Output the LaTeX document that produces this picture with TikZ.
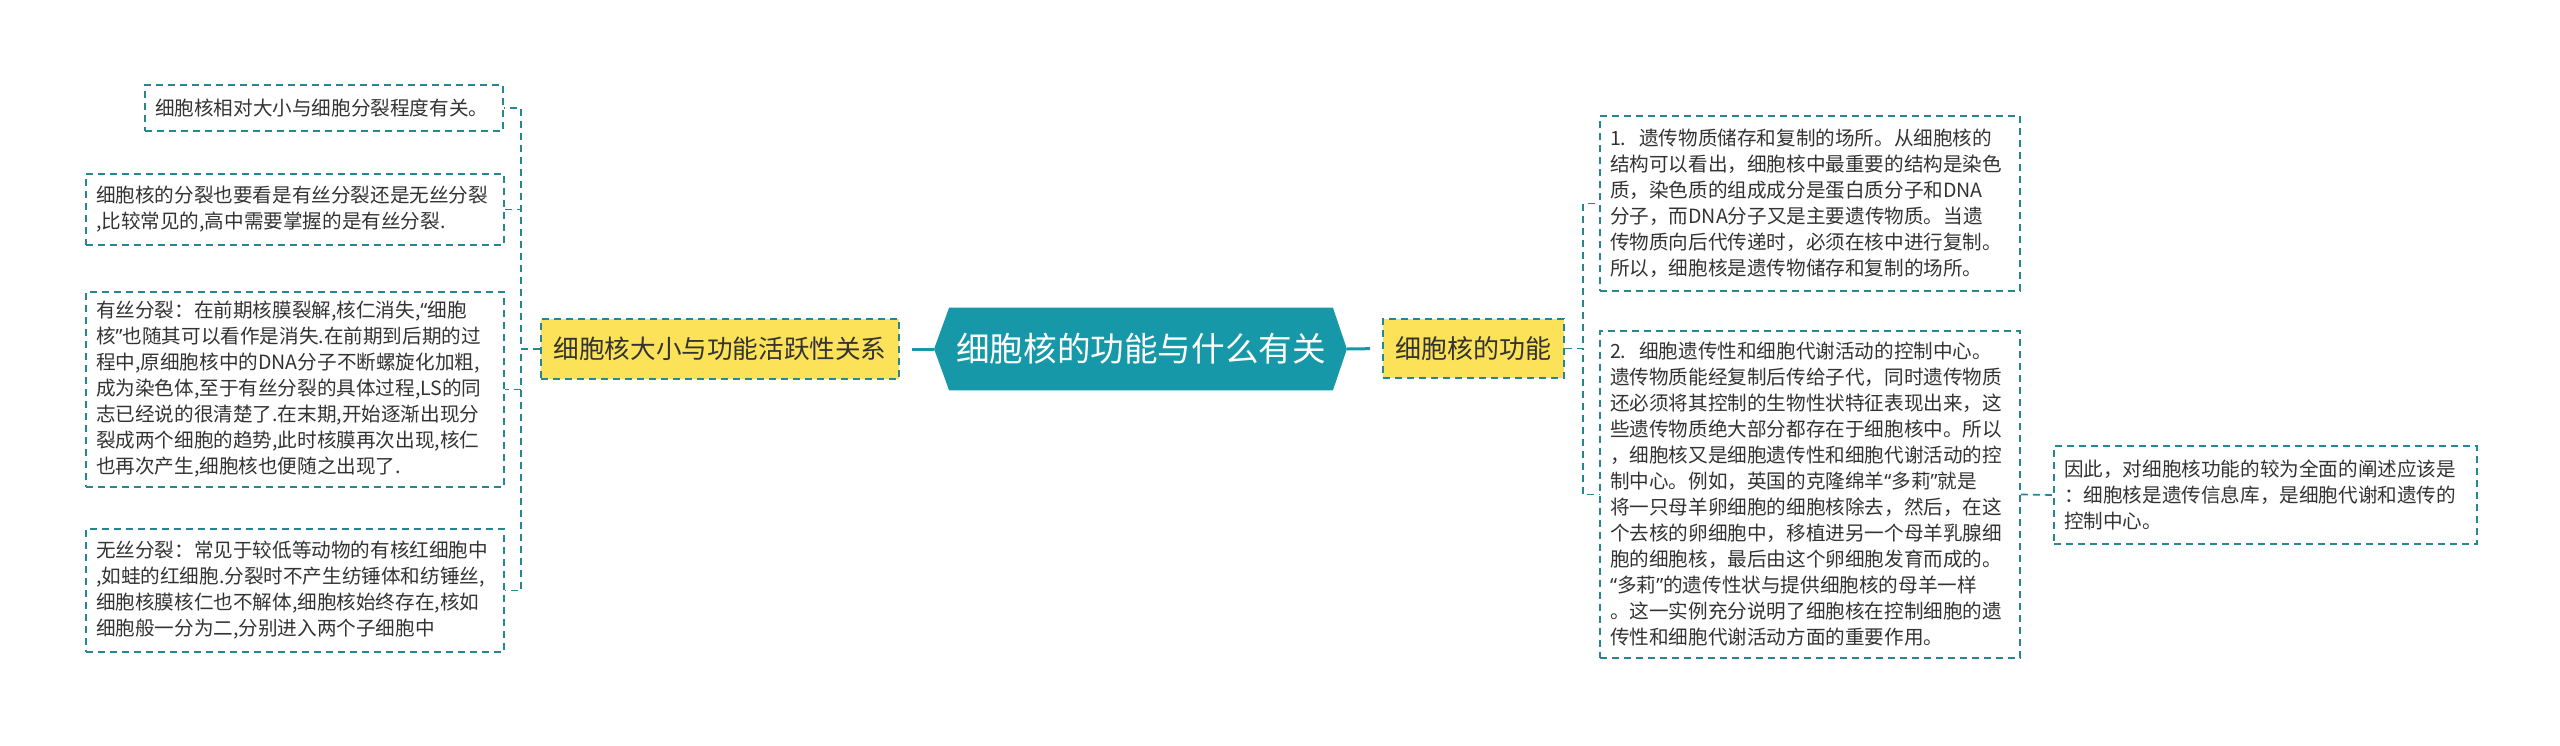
\documentclass[tikz,border=0pt]{standalone}
\usepackage{fontspec}
\setmainfont{Noto Sans CJK SC}
\newfontfamily\qfont{Noto Sans}
\usetikzlibrary{backgrounds}
\definecolor{hubteal}{RGB}{22,152,168}
\definecolor{linkteal}{RGB}{38,134,146}
\definecolor{topicyellow}{RGB}{252,226,88}
\definecolor{inktext}{RGB}{51,51,51}

\begin{document}
\begin{tikzpicture}[x=0.5pt,y=-0.5pt,
  leaf/.style={draw=linkteal,line width=0.85pt,dash pattern=on 3.5pt off 2.5pt,
    inner xsep=5pt,inner ysep=0pt,align=left,text=inktext,
    font=\fontsize{9.8}{13}\selectfont},
  topic/.style={draw=linkteal,fill=topicyellow,line width=0.85pt,dash pattern=on 3.5pt off 2.5pt,
    inner sep=0pt,text=inktext,font=\fontsize{12.8}{15}\selectfont},
  link/.style={linkteal,line width=0.85pt,dash pattern=on 3.5pt off 2.5pt},
  hubline/.style={hubteal,line width=1.5pt,shorten >=6pt}]
  \useasboundingbox (0,0) rectangle (2560,745);

  \node[inner sep=0pt,minimum width=191.5pt,minimum height=41pt,text=white,
    font=\fontsize{16.8}{20}\selectfont] (hub) at (1141,349) {细胞核的功能与什么有关};
  \coordinate (hubL) at ([xshift=-7.5pt]hub.west);
  \coordinate (hubR) at ([xshift=7pt]hub.east);
  \begin{scope}[on background layer]
    \fill[hubteal] (hub.north west) -- (hub.north east) -- (hubR) -- (hub.south east)
      -- (hub.south west) -- (hubL) -- cycle;
  \end{scope}

  \node[topic,minimum width=179pt,minimum height=30pt] (yl) at (720,349) {细胞核大小与功能活跃性关系};
  \node[topic,minimum width=90.5pt,minimum height=29.5pt,font=\fontsize{13}{15}\selectfont] (yr) at (1473.5,348.5) {细胞核的功能};

  \node[leaf,text width=169pt,minimum height=23pt] (b1) at (324,108) {细胞核相对大小与细胞分裂程度有关。};
  \node[leaf,text width=199pt,minimum height=35.5pt] (b2) at (295,209.5) {细胞核的分裂也要看是有丝分裂还是无丝分裂\\
,比较常见的,高中需要掌握的是有丝分裂.};
  \node[leaf,text width=199pt,minimum height=97.5pt] (b3) at (295,389.5) {有丝分裂：在前期核膜裂解,核仁消失,{\qfont “}细胞\\
核{\qfont ”}也随其可以看作是消失.在前期到后期的过\\
程中,原细胞核中的DNA分子不断螺旋化加粗,\\
成为染色体,至于有丝分裂的具体过程,LS的同\\
志已经说的很清楚了.在末期,开始逐渐出现分\\
裂成两个细胞的趋势,此时核膜再次出现,核仁\\
也再次产生,细胞核也便随之出现了.};
  \node[leaf,text width=199pt,minimum height=61.5pt] (b4) at (295,590.5) {无丝分裂：常见于较低等动物的有核红细胞中\\
,如蛙的红细胞.分裂时不产生纺锤体和纺锤丝,\\
细胞核膜核仁也不解体,细胞核始终存在,核如\\
细胞般一分为二,分别进入两个子细胞中};

  \node[leaf,text width=200pt,minimum height=87.5pt] (b5) at (1810,203.5) {1.~~遗传物质储存和复制的场所。从细胞核的\\
结构可以看出，细胞核中最重要的结构是染色\\
质，染色质的组成成分是蛋白质分子和DNA\\
分子，而DNA分子又是主要遗传物质。当遗\\
传物质向后代传递时，必须在核中进行复制。\\
所以，细胞核是遗传物储存和复制的场所。};
  \node[leaf,text width=200pt,minimum height=163.5pt] (b6) at (1810,494.5) {2.~~细胞遗传性和细胞代谢活动的控制中心。\\
遗传物质能经复制后传给子代，同时遗传物质\\
还必须将其控制的生物性状特征表现出来，这\\
些遗传物质绝大部分都存在于细胞核中。所以\\
，细胞核又是细胞遗传性和细胞代谢活动的控\\
制中心。例如，英国的克隆绵羊{\qfont “}多莉{\qfont ”}就是\\
将一只母羊卵细胞的细胞核除去，然后，在这\\
个去核的卵细胞中，移植进另一个母羊乳腺细\\
胞的细胞核，最后由这个卵细胞发育而成的。\\
{\qfont “}多莉{\qfont ”}的遗传性状与提供细胞核的母羊一样\\
。这一实例充分说明了细胞核在控制细胞的遗\\
传性和细胞代谢活动方面的重要作用。};
  \node[leaf,text width=201.5pt,minimum height=49pt] (b7) at (2265.5,495) {因此，对细胞核功能的较为全面的阐述应该是\\
：细胞核是遗传信息库，是细胞代谢和遗传的\\
控制中心。};

  \draw[hubline] (hubL) -- (yl.east);
  \draw[hubline] (hubR) -- (yr.west);
  \foreach \b in {b1,b2,b3,b4} \draw[link] (yl.west) -- ++(-19,0) |- (\b.east);
  \foreach \b in {b5,b6} \draw[link] (yr.east) -- ++(18,0) |- (\b.west);
  \draw[link] (b6.east) -- (b7.west);
\end{tikzpicture}
\end{document}
